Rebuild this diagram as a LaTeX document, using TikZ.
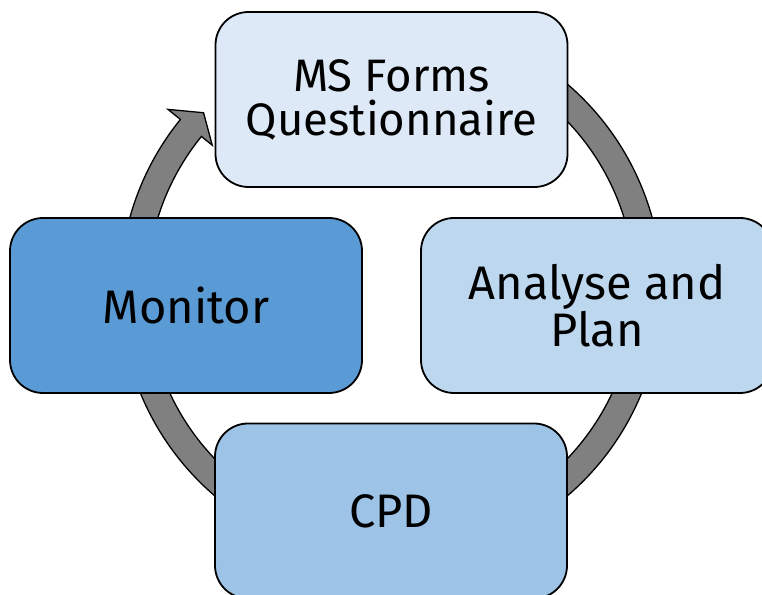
\documentclass[tikz,border=0pt]{standalone}
\usepackage{fontspec}
\setmainfont{Fira Sans}
\definecolor{ctop}{RGB}{221,233,246}
\definecolor{cright}{RGB}{189,215,238}
\definecolor{cbottom}{RGB}{157,195,230}
\definecolor{cleft}{RGB}{91,155,213}
\definecolor{cring}{RGB}{128,128,128}
\tikzset{
  box/.style={draw=black, line width=1.8pt, rounded corners=33pt,
    minimum width=352pt, minimum height=175pt, align=center, inner sep=0pt,
    text=black},
  bigtext/.style={font=\fontsize{47pt}{47pt}\selectfont},
  smalltext/.style={font=\fontsize{45.5pt}{44pt}\selectfont},
  ring/.style={draw=black, fill=cring, line width=1.3pt, line join=miter}
}
\begin{document}
\begin{tikzpicture}
\clip (0pt,0pt) rectangle (762pt,594pt);
\fill[white] (0pt,0pt) rectangle (762pt,594pt);
\coordinate (C) at (391pt,304pt);
% circular arrow
\draw[ring] ([shift={(70:271pt)}]C) arc[start angle=70, end angle=-219, radius=271pt]
  -- ([shift={(-219:287pt)}]C)
  -- ([shift={(-223.4:258pt)}]C)
  -- ([shift={(-219:230pt)}]C)
  -- ([shift={(-219:244pt)}]C)
  arc[start angle=-219, end angle=70, radius=244pt] -- cycle;
% boxes
\node[box, fill=ctop, smalltext] (top) at (391.5pt,494.5pt) {MS Forms\\Questionnaire};
\node[box, fill=cright, bigtext] (right) at (597pt,288.5pt) {Analyse and\\Plan};
\node[box, fill=cbottom, bigtext] (bottom) at (391pt,83pt) {CPD};
\node[box, fill=cleft, bigtext] (left) at (186pt,288.5pt) {Monitor};
\end{tikzpicture}
\end{document}
